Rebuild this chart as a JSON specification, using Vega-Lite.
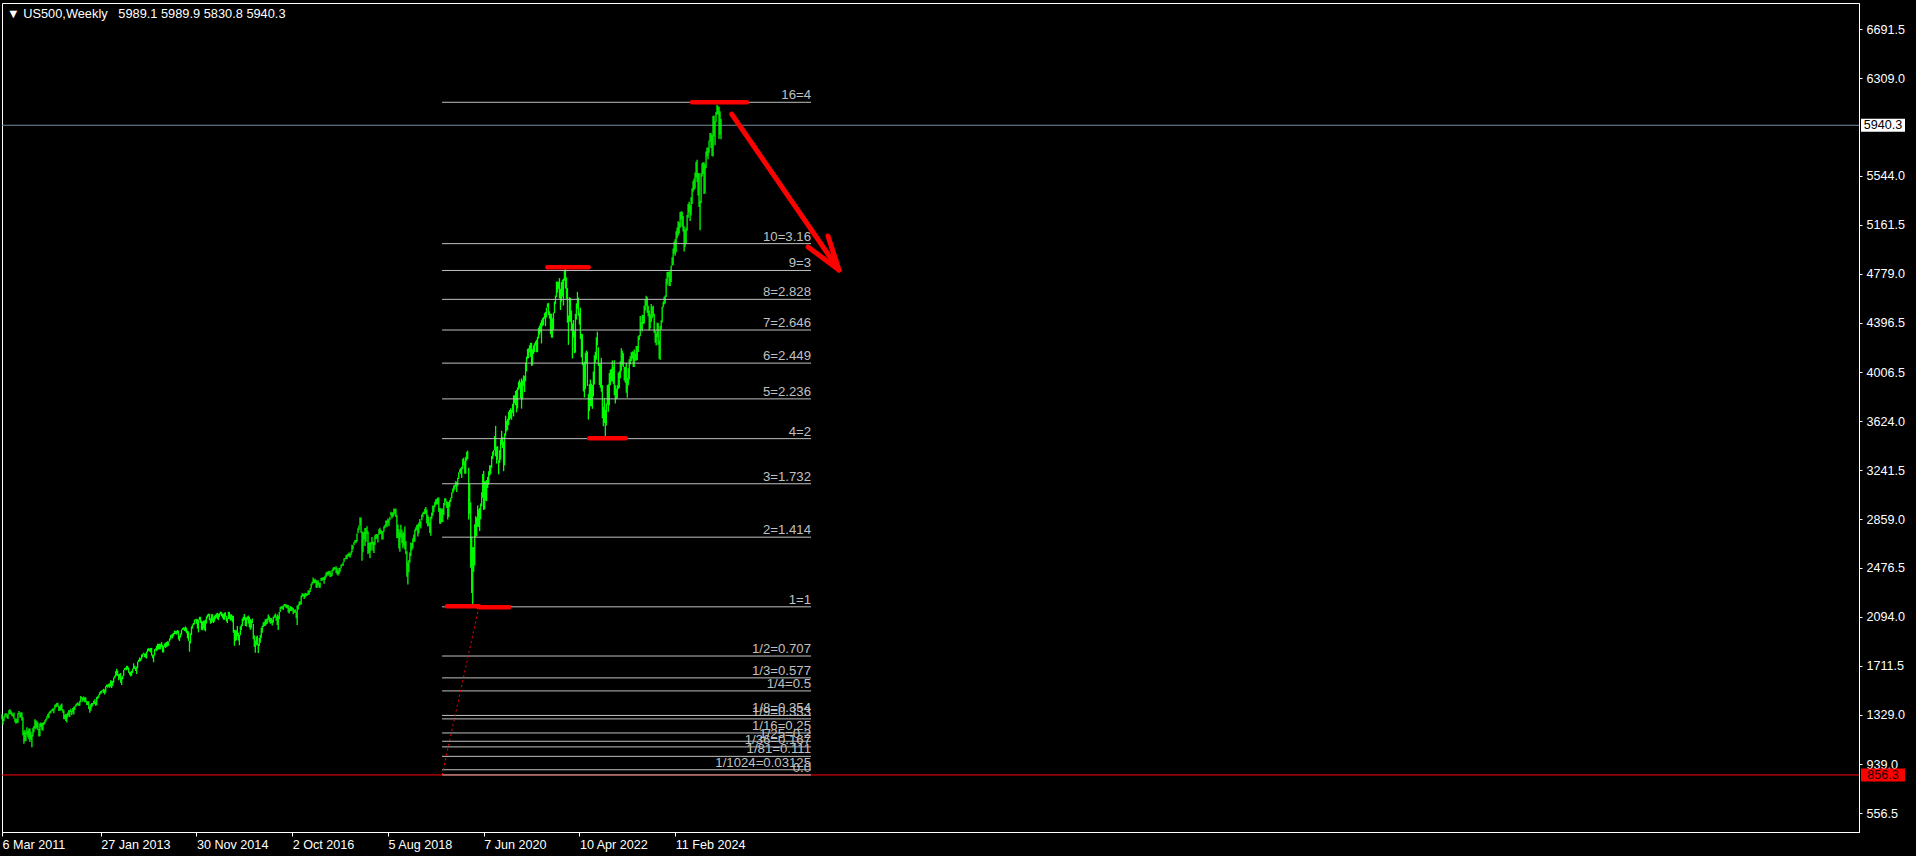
{
"$schema": "https://vega.github.io/schema/vega-lite/v6.json",
"width": 1857, "height": 829,
"autosize": {"type": "none"},
"padding": {"left": 2, "top": 3, "right": 57, "bottom": 24},
"background": "#000000",
"title": {"text": "▼ US500,Weekly\u00a0\u00a0 5989.1 5989.9 5830.8 5940.3", "anchor": "start", "frame": "group", "offset": -18, "dx": 5, "color": "#ffffff", "font": "Liberation Sans", "fontSize": 12.8, "fontWeight": "normal"},
"config": {"view": {"stroke": "#ffffff", "strokeWidth": 1}, "axis": {"labelFont": "Liberation Sans", "labelFontSize": 12.6, "labelColor": "#ffffff", "tickColor": "#ffffff", "domainColor": "#ffffff", "grid": false}},
"datasets": {
"weekly": [
{"d":"2011-03-06","l":1291,"h":1332},{"d":"2011-03-13","l":1249,"h":1304},{"d":"2011-03-20","l":1279,"h":1315},{"d":"2011-03-27","l":1305,"h":1337},{"d":"2011-04-03","l":1322,"h":1339},{"d":"2011-04-10","l":1302,"h":1330},{"d":"2011-04-17","l":1295,"h":1337},{"d":"2011-04-24","l":1331,"h":1364},{"d":"2011-05-01","l":1332,"h":1370},{"d":"2011-05-08","l":1331,"h":1359},{"d":"2011-05-15","l":1318,"h":1346},{"d":"2011-05-22","l":1311,"h":1334},{"d":"2011-05-29","l":1297,"h":1346},{"d":"2011-06-05","l":1268,"h":1301},{"d":"2011-06-12","l":1258,"h":1292},{"d":"2011-06-19","l":1262,"h":1298},{"d":"2011-06-26","l":1265,"h":1341},{"d":"2011-07-03","l":1335,"h":1356},{"d":"2011-07-10","l":1306,"h":1344},{"d":"2011-07-17","l":1304,"h":1347},{"d":"2011-07-24","l":1282,"h":1346},{"d":"2011-07-31","l":1168,"h":1307},{"d":"2011-08-07","l":1101,"h":1199},{"d":"2011-08-14","l":1120,"h":1208},{"d":"2011-08-21","l":1122,"h":1190},{"d":"2011-08-28","l":1172,"h":1230},{"d":"2011-09-04","l":1152,"h":1204},{"d":"2011-09-11","l":1136,"h":1220},{"d":"2011-09-18","l":1114,"h":1220},{"d":"2011-09-25","l":1131,"h":1195},{"d":"2011-10-02","l":1074,"h":1171},{"d":"2011-10-09","l":1158,"h":1225},{"d":"2011-10-16","l":1191,"h":1239},{"d":"2011-10-23","l":1221,"h":1292},{"d":"2011-10-30","l":1215,"h":1285},{"d":"2011-11-06","l":1226,"h":1277},{"d":"2011-11-13","l":1209,"h":1266},{"d":"2011-11-20","l":1158,"h":1216},{"d":"2011-11-27","l":1159,"h":1260},{"d":"2011-12-04","l":1231,"h":1267},{"d":"2011-12-11","l":1209,"h":1262},{"d":"2011-12-18","l":1202,"h":1265},{"d":"2011-12-25","l":1248,"h":1270},
{"d":"2012-01-01","l":1258,"h":1285},{"d":"2012-01-08","l":1275,"h":1297},{"d":"2012-01-15","l":1290,"h":1316},{"d":"2012-01-22","l":1308,"h":1333},{"d":"2012-01-29","l":1300,"h":1345},{"d":"2012-02-05","l":1338,"h":1354},{"d":"2012-02-12","l":1340,"h":1363},{"d":"2012-02-19","l":1354,"h":1368},{"d":"2012-02-26","l":1355,"h":1378},{"d":"2012-03-04","l":1340,"h":1374},{"d":"2012-03-11","l":1368,"h":1405},{"d":"2012-03-18","l":1386,"h":1409},{"d":"2012-03-25","l":1391,"h":1420},{"d":"2012-04-01","l":1394,"h":1422},{"d":"2012-04-08","l":1357,"h":1397},{"d":"2012-04-15","l":1358,"h":1391},{"d":"2012-04-22","l":1358,"h":1406},{"d":"2012-04-29","l":1367,"h":1415},{"d":"2012-05-06","l":1343,"h":1372},{"d":"2012-05-13","l":1292,"h":1360},{"d":"2012-05-20","l":1292,"h":1328},{"d":"2012-05-27","l":1278,"h":1334},{"d":"2012-06-03","l":1267,"h":1335},{"d":"2012-06-10","l":1306,"h":1345},{"d":"2012-06-17","l":1323,"h":1364},{"d":"2012-06-24","l":1309,"h":1363},{"d":"2012-07-01","l":1349,"h":1375},{"d":"2012-07-08","l":1325,"h":1357},{"d":"2012-07-15","l":1345,"h":1380},{"d":"2012-07-22","l":1329,"h":1390},{"d":"2012-07-29","l":1365,"h":1394},{"d":"2012-08-05","l":1391,"h":1407},{"d":"2012-08-12","l":1397,"h":1418},{"d":"2012-08-19","l":1403,"h":1426},{"d":"2012-08-26","l":1397,"h":1415},{"d":"2012-09-02","l":1397,"h":1438},{"d":"2012-09-09","l":1425,"h":1475},{"d":"2012-09-16","l":1450,"h":1467},{"d":"2012-09-23","l":1430,"h":1461},{"d":"2012-09-30","l":1439,"h":1470},{"d":"2012-10-07","l":1425,"h":1462},{"d":"2012-10-14","l":1426,"h":1465},{"d":"2012-10-21","l":1403,"h":1434},{"d":"2012-10-28","l":1403,"h":1434},{"d":"2012-11-04","l":1373,"h":1433},{"d":"2012-11-11","l":1343,"h":1391},{"d":"2012-11-18","l":1359,"h":1410},{"d":"2012-11-25","l":1385,"h":1419},{"d":"2012-12-02","l":1398,"h":1420},{"d":"2012-12-09","l":1411,"h":1438},{"d":"2012-12-16","l":1410,"h":1448},{"d":"2012-12-23","l":1398,"h":1430},{"d":"2012-12-30","l":1401,"h":1467},
{"d":"2013-01-06","l":1451,"h":1472},{"d":"2013-01-13","l":1461,"h":1485},{"d":"2013-01-20","l":1482,"h":1503},{"d":"2013-01-27","l":1492,"h":1514},{"d":"2013-02-03","l":1495,"h":1518},{"d":"2013-02-10","l":1511,"h":1524},{"d":"2013-02-17","l":1497,"h":1531},{"d":"2013-02-24","l":1485,"h":1525},{"d":"2013-03-03","l":1501,"h":1552},{"d":"2013-03-10","l":1547,"h":1564},{"d":"2013-03-17","l":1538,"h":1563},{"d":"2013-03-24","l":1546,"h":1570},{"d":"2013-03-31","l":1539,"h":1574},{"d":"2013-04-07","l":1548,"h":1597},{"d":"2013-04-14","l":1536,"h":1593},{"d":"2013-04-21","l":1553,"h":1592},{"d":"2013-04-28","l":1577,"h":1618},{"d":"2013-05-05","l":1614,"h":1635},{"d":"2013-05-12","l":1626,"h":1667},{"d":"2013-05-19","l":1635,"h":1687},{"d":"2013-05-26","l":1630,"h":1674},{"d":"2013-06-02","l":1598,"h":1645},{"d":"2013-06-09","l":1610,"h":1648},{"d":"2013-06-16","l":1577,"h":1655},{"d":"2013-06-23","l":1560,"h":1620},{"d":"2013-06-30","l":1605,"h":1632},{"d":"2013-07-07","l":1631,"h":1680},{"d":"2013-07-14","l":1675,"h":1693},{"d":"2013-07-21","l":1681,"h":1698},{"d":"2013-07-28","l":1676,"h":1710},{"d":"2013-08-04","l":1683,"h":1709},{"d":"2013-08-11","l":1655,"h":1696},{"d":"2013-08-18","l":1640,"h":1664},{"d":"2013-08-25","l":1628,"h":1664},{"d":"2013-09-01","l":1633,"h":1671},{"d":"2013-09-08","l":1655,"h":1689},{"d":"2013-09-15","l":1685,"h":1730},{"d":"2013-09-22","l":1687,"h":1711},{"d":"2013-09-29","l":1670,"h":1696},{"d":"2013-10-06","l":1646,"h":1704},{"d":"2013-10-13","l":1692,"h":1745},{"d":"2013-10-20","l":1740,"h":1759},{"d":"2013-10-27","l":1746,"h":1776},{"d":"2013-11-03","l":1746,"h":1771},{"d":"2013-11-10","l":1761,"h":1799},{"d":"2013-11-17","l":1780,"h":1804},{"d":"2013-11-24","l":1800,"h":1813},{"d":"2013-12-01","l":1779,"h":1806},{"d":"2013-12-08","l":1772,"h":1809},{"d":"2013-12-15","l":1767,"h":1823},{"d":"2013-12-22","l":1817,"h":1844},{"d":"2013-12-29","l":1827,"h":1849},
{"d":"2014-01-05","l":1823,"h":1843},{"d":"2014-01-12","l":1815,"h":1851},{"d":"2014-01-19","l":1790,"h":1850},{"d":"2014-01-26","l":1770,"h":1798},{"d":"2014-02-02","l":1738,"h":1798},{"d":"2014-02-09","l":1791,"h":1840},{"d":"2014-02-16","l":1830,"h":1847},{"d":"2014-02-23","l":1825,"h":1867},{"d":"2014-03-02","l":1834,"h":1883},{"d":"2014-03-09","l":1839,"h":1883},{"d":"2014-03-16","l":1839,"h":1883},{"d":"2014-03-23","l":1840,"h":1883},{"d":"2014-03-30","l":1857,"h":1897},{"d":"2014-04-06","l":1814,"h":1875},{"d":"2014-04-13","l":1815,"h":1865},{"d":"2014-04-20","l":1859,"h":1885},{"d":"2014-04-27","l":1850,"h":1892},{"d":"2014-05-04","l":1859,"h":1897},{"d":"2014-05-11","l":1862,"h":1903},{"d":"2014-05-18","l":1868,"h":1901},{"d":"2014-05-25","l":1900,"h":1925},{"d":"2014-06-01","l":1915,"h":1950},{"d":"2014-06-08","l":1930,"h":1955},{"d":"2014-06-15","l":1925,"h":1963},{"d":"2014-06-22","l":1944,"h":1968},{"d":"2014-06-29","l":1958,"h":1986},{"d":"2014-07-06","l":1959,"h":1983},{"d":"2014-07-13","l":1955,"h":1985},{"d":"2014-07-20","l":1965,"h":1991},{"d":"2014-07-27","l":1916,"h":1985},{"d":"2014-08-03","l":1904,"h":1945},{"d":"2014-08-10","l":1930,"h":1964},{"d":"2014-08-17","l":1953,"h":1994},{"d":"2014-08-24","l":1990,"h":2006},{"d":"2014-08-31","l":1995,"h":2012},{"d":"2014-09-07","l":1983,"h":2010},{"d":"2014-09-14","l":1979,"h":2019},{"d":"2014-09-21","l":1965,"h":2009},{"d":"2014-09-28","l":1926,"h":1986},{"d":"2014-10-05","l":1905,"h":1980},{"d":"2014-10-12","l":1821,"h":1906},{"d":"2014-10-19","l":1886,"h":1966},{"d":"2014-10-26","l":1951,"h":2018},{"d":"2014-11-02","l":2001,"h":2034},{"d":"2014-11-09","l":2028,"h":2046},{"d":"2014-11-16","l":2034,"h":2071},{"d":"2014-11-23","l":2064,"h":2075},{"d":"2014-11-30","l":2040,"h":2079},{"d":"2014-12-07","l":2002,"h":2075},{"d":"2014-12-14","l":1972,"h":2071},{"d":"2014-12-21","l":2069,"h":2094},{"d":"2014-12-28","l":2046,"h":2094},
{"d":"2015-01-04","l":1992,"h":2064},{"d":"2015-01-11","l":1988,"h":2057},{"d":"2015-01-18","l":2004,"h":2064},{"d":"2015-01-25","l":1989,"h":2064},{"d":"2015-02-01","l":1980,"h":2072},{"d":"2015-02-08","l":2041,"h":2097},{"d":"2015-02-15","l":2085,"h":2111},{"d":"2015-02-22","l":2097,"h":2119},{"d":"2015-03-01","l":2067,"h":2117},{"d":"2015-03-08","l":2039,"h":2082},{"d":"2015-03-15","l":2046,"h":2114},{"d":"2015-03-22","l":2055,"h":2115},{"d":"2015-03-29","l":2045,"h":2089},{"d":"2015-04-05","l":2056,"h":2103},{"d":"2015-04-12","l":2077,"h":2111},{"d":"2015-04-19","l":2087,"h":2120},{"d":"2015-04-26","l":2077,"h":2125},{"d":"2015-05-03","l":2067,"h":2117},{"d":"2015-05-10","l":2092,"h":2123},{"d":"2015-05-17","l":2114,"h":2135},{"d":"2015-05-24","l":2099,"h":2132},{"d":"2015-05-31","l":2085,"h":2121},{"d":"2015-06-07","l":2072,"h":2115},{"d":"2015-06-14","l":2070,"h":2126},{"d":"2015-06-21","l":2096,"h":2130},{"d":"2015-06-28","l":2056,"h":2102},{"d":"2015-07-05","l":2044,"h":2085},{"d":"2015-07-12","l":2077,"h":2133},{"d":"2015-07-19","l":2077,"h":2132},{"d":"2015-07-26","l":2063,"h":2114},{"d":"2015-08-02","l":2068,"h":2113},{"d":"2015-08-09","l":2052,"h":2103},{"d":"2015-08-16","l":1970,"h":2102},{"d":"2015-08-23","l":1867,"h":1993},{"d":"2015-08-30","l":1903,"h":1988},{"d":"2015-09-06","l":1910,"h":1988},{"d":"2015-09-13","l":1944,"h":2021},{"d":"2015-09-20","l":1908,"h":1970},{"d":"2015-09-27","l":1872,"h":1952},{"d":"2015-10-04","l":1950,"h":2020},{"d":"2015-10-11","l":1990,"h":2034},{"d":"2015-10-18","l":2022,"h":2080},{"d":"2015-10-25","l":2059,"h":2094},{"d":"2015-11-01","l":2069,"h":2116},{"d":"2015-11-08","l":2022,"h":2093},{"d":"2015-11-15","l":2019,"h":2089},{"d":"2015-11-22","l":2070,"h":2097},{"d":"2015-11-29","l":2042,"h":2104},{"d":"2015-12-06","l":2012,"h":2093},{"d":"2015-12-13","l":1993,"h":2076},{"d":"2015-12-20","l":2005,"h":2067},{"d":"2015-12-27","l":2043,"h":2081},
{"d":"2016-01-03","l":1918,"h":2039},{"d":"2016-01-10","l":1857,"h":1950},{"d":"2016-01-17","l":1812,"h":1908},{"d":"2016-01-24","l":1872,"h":1940},{"d":"2016-01-31","l":1872,"h":1947},{"d":"2016-02-07","l":1810,"h":1882},{"d":"2016-02-14","l":1865,"h":1930},{"d":"2016-02-21","l":1891,"h":1951},{"d":"2016-02-28","l":1931,"h":2009},{"d":"2016-03-06","l":1969,"h":2023},{"d":"2016-03-13","l":2014,"h":2052},{"d":"2016-03-20","l":2022,"h":2056},{"d":"2016-03-27","l":2022,"h":2075},{"d":"2016-04-03","l":2033,"h":2075},{"d":"2016-04-10","l":2039,"h":2083},{"d":"2016-04-17","l":2070,"h":2111},{"d":"2016-04-24","l":2052,"h":2099},{"d":"2016-05-01","l":2039,"h":2084},{"d":"2016-05-08","l":2045,"h":2084},{"d":"2016-05-15","l":2025,"h":2071},{"d":"2016-05-22","l":2048,"h":2094},{"d":"2016-05-29","l":2085,"h":2106},{"d":"2016-06-05","l":2089,"h":2120},{"d":"2016-06-12","l":2063,"h":2096},{"d":"2016-06-19","l":2030,"h":2113},{"d":"2016-06-26","l":1991,"h":2102},{"d":"2016-07-03","l":2074,"h":2131},{"d":"2016-07-10","l":2131,"h":2170},{"d":"2016-07-17","l":2159,"h":2176},{"d":"2016-07-24","l":2155,"h":2177},{"d":"2016-07-31","l":2147,"h":2183},{"d":"2016-08-07","l":2175,"h":2194},{"d":"2016-08-14","l":2173,"h":2193},{"d":"2016-08-21","l":2160,"h":2193},{"d":"2016-08-28","l":2161,"h":2187},{"d":"2016-09-04","l":2127,"h":2187},{"d":"2016-09-11","l":2119,"h":2163},{"d":"2016-09-18","l":2139,"h":2179},{"d":"2016-09-25","l":2140,"h":2175},{"d":"2016-10-02","l":2142,"h":2169},{"d":"2016-10-09","l":2114,"h":2163},{"d":"2016-10-16","l":2125,"h":2148},{"d":"2016-10-23","l":2125,"h":2154},{"d":"2016-10-30","l":2083,"h":2133},{"d":"2016-11-06","l":2030,"h":2182},{"d":"2016-11-13","l":2151,"h":2189},{"d":"2016-11-20","l":2181,"h":2214},{"d":"2016-11-27","l":2187,"h":2214},{"d":"2016-12-04","l":2191,"h":2260},{"d":"2016-12-11","l":2248,"h":2278},{"d":"2016-12-18","l":2254,"h":2274},{"d":"2016-12-25","l":2233,"h":2273},
{"d":"2017-01-01","l":2245,"h":2282},{"d":"2017-01-08","l":2254,"h":2279},{"d":"2017-01-15","l":2258,"h":2276},{"d":"2017-01-22","l":2266,"h":2301},{"d":"2017-01-29","l":2267,"h":2300},{"d":"2017-02-05","l":2288,"h":2319},{"d":"2017-02-12","l":2313,"h":2352},{"d":"2017-02-19","l":2345,"h":2368},{"d":"2017-02-26","l":2358,"h":2401},{"d":"2017-03-05","l":2357,"h":2385},{"d":"2017-03-12","l":2360,"h":2391},{"d":"2017-03-19","l":2322,"h":2382},{"d":"2017-03-26","l":2322,"h":2372},{"d":"2017-04-02","l":2344,"h":2379},{"d":"2017-04-09","l":2322,"h":2358},{"d":"2017-04-16","l":2322,"h":2362},{"d":"2017-04-23","l":2373,"h":2399},{"d":"2017-04-30","l":2377,"h":2399},{"d":"2017-05-07","l":2382,"h":2404},{"d":"2017-05-14","l":2352,"h":2406},{"d":"2017-05-21","l":2384,"h":2418},{"d":"2017-05-28","l":2403,"h":2440},{"d":"2017-06-04","l":2419,"h":2446},{"d":"2017-06-11","l":2415,"h":2448},{"d":"2017-06-18","l":2428,"h":2454},{"d":"2017-06-25","l":2405,"h":2453},{"d":"2017-07-02","l":2407,"h":2434},{"d":"2017-07-09","l":2415,"h":2463},{"d":"2017-07-16","l":2452,"h":2478},{"d":"2017-07-23","l":2459,"h":2484},{"d":"2017-07-30","l":2468,"h":2480},{"d":"2017-08-06","l":2437,"h":2490},{"d":"2017-08-13","l":2425,"h":2474},{"d":"2017-08-20","l":2417,"h":2454},{"d":"2017-08-27","l":2428,"h":2477},{"d":"2017-09-03","l":2446,"h":2476},{"d":"2017-09-10","l":2474,"h":2501},{"d":"2017-09-17","l":2496,"h":2508},{"d":"2017-09-24","l":2491,"h":2520},{"d":"2017-10-01","l":2520,"h":2552},{"d":"2017-10-08","l":2544,"h":2555},{"d":"2017-10-15","l":2548,"h":2576},{"d":"2017-10-22","l":2544,"h":2582},{"d":"2017-10-29","l":2566,"h":2588},{"d":"2017-11-05","l":2566,"h":2597},{"d":"2017-11-12","l":2557,"h":2590},{"d":"2017-11-19","l":2576,"h":2605},{"d":"2017-11-26","l":2597,"h":2658},{"d":"2017-12-03","l":2624,"h":2653},{"d":"2017-12-10","l":2655,"h":2679},{"d":"2017-12-17","l":2673,"h":2695},{"d":"2017-12-24","l":2669,"h":2695},{"d":"2017-12-31","l":2683,"h":2745},
{"d":"2018-01-07","l":2748,"h":2787},{"d":"2018-01-14","l":2776,"h":2811},{"d":"2018-01-21","l":2808,"h":2873},{"d":"2018-01-28","l":2752,"h":2870},{"d":"2018-02-04","l":2532,"h":2764},{"d":"2018-02-11","l":2600,"h":2755},{"d":"2018-02-18","l":2700,"h":2757},{"d":"2018-02-25","l":2647,"h":2789},{"d":"2018-03-04","l":2681,"h":2787},{"d":"2018-03-11","l":2741,"h":2802},{"d":"2018-03-18","l":2586,"h":2761},{"d":"2018-03-25","l":2594,"h":2675},{"d":"2018-04-01","l":2553,"h":2673},{"d":"2018-04-08","l":2610,"h":2680},{"d":"2018-04-15","l":2660,"h":2718},{"d":"2018-04-22","l":2612,"h":2683},{"d":"2018-04-29","l":2594,"h":2682},{"d":"2018-05-06","l":2655,"h":2732},{"d":"2018-05-13","l":2701,"h":2742},{"d":"2018-05-20","l":2707,"h":2742},{"d":"2018-05-27","l":2676,"h":2736},{"d":"2018-06-03","l":2735,"h":2780},{"d":"2018-06-10","l":2743,"h":2791},{"d":"2018-06-17","l":2742,"h":2774},{"d":"2018-06-24","l":2698,"h":2765},{"d":"2018-07-01","l":2699,"h":2764},{"d":"2018-07-08","l":2760,"h":2802},{"d":"2018-07-15","l":2788,"h":2815},{"d":"2018-07-22","l":2804,"h":2848},{"d":"2018-07-29","l":2795,"h":2848},{"d":"2018-08-05","l":2829,"h":2864},{"d":"2018-08-12","l":2802,"h":2854},{"d":"2018-08-19","l":2850,"h":2877},{"d":"2018-08-26","l":2884,"h":2916},{"d":"2018-09-02","l":2864,"h":2908},{"d":"2018-09-09","l":2874,"h":2912},{"d":"2018-09-16","l":2886,"h":2941},{"d":"2018-09-23","l":2903,"h":2940},{"d":"2018-09-30","l":2874,"h":2940},{"d":"2018-10-07","l":2710,"h":2889},{"d":"2018-10-14","l":2710,"h":2817},{"d":"2018-10-21","l":2628,"h":2779},{"d":"2018-10-28","l":2603,"h":2756},{"d":"2018-11-04","l":2715,"h":2815},{"d":"2018-11-11","l":2670,"h":2775},{"d":"2018-11-18","l":2631,"h":2747},{"d":"2018-11-25","l":2649,"h":2760},{"d":"2018-12-02","l":2621,"h":2800},{"d":"2018-12-09","l":2583,"h":2685},{"d":"2018-12-16","l":2408,"h":2607},{"d":"2018-12-23","l":2346,"h":2520},{"d":"2018-12-30","l":2443,"h":2539},
{"d":"2019-01-06","l":2519,"h":2597},{"d":"2019-01-13","l":2570,"h":2675},{"d":"2019-01-20","l":2612,"h":2672},{"d":"2019-01-27","l":2631,"h":2708},{"d":"2019-02-03","l":2681,"h":2738},{"d":"2019-02-10","l":2681,"h":2777},{"d":"2019-02-17","l":2763,"h":2795},{"d":"2019-02-24","l":2775,"h":2814},{"d":"2019-03-03","l":2722,"h":2816},{"d":"2019-03-10","l":2745,"h":2830},{"d":"2019-03-17","l":2800,"h":2860},{"d":"2019-03-24","l":2785,"h":2841},{"d":"2019-03-31","l":2848,"h":2894},{"d":"2019-04-07","l":2873,"h":2910},{"d":"2019-04-14","l":2898,"h":2917},{"d":"2019-04-21","l":2896,"h":2940},{"d":"2019-04-28","l":2900,"h":2954},{"d":"2019-05-05","l":2825,"h":2931},{"d":"2019-05-12","l":2801,"h":2892},{"d":"2019-05-19","l":2805,"h":2875},{"d":"2019-05-26","l":2750,"h":2830},{"d":"2019-06-02","l":2728,"h":2876},{"d":"2019-06-09","l":2861,"h":2911},{"d":"2019-06-16","l":2884,"h":2964},{"d":"2019-06-23","l":2912,"h":2964},{"d":"2019-06-30","l":2952,"h":2995},{"d":"2019-07-07","l":2966,"h":3014},{"d":"2019-07-14","l":2975,"h":3018},{"d":"2019-07-21","l":2975,"h":3028},{"d":"2019-07-28","l":2914,"h":3028},{"d":"2019-08-04","l":2822,"h":2945},{"d":"2019-08-11","l":2822,"h":2943},{"d":"2019-08-18","l":2834,"h":2939},{"d":"2019-08-25","l":2836,"h":2941},{"d":"2019-09-01","l":2891,"h":2985},{"d":"2019-09-08","l":2964,"h":3021},{"d":"2019-09-15","l":2996,"h":3022},{"d":"2019-09-22","l":2945,"h":3000},{"d":"2019-09-29","l":2855,"h":2993},{"d":"2019-10-06","l":2874,"h":2993},{"d":"2019-10-13","l":2953,"h":3008},{"d":"2019-10-20","l":2992,"h":3027},{"d":"2019-10-27","l":3023,"h":3067},{"d":"2019-11-03","l":3061,"h":3097},{"d":"2019-11-10","l":3075,"h":3121},{"d":"2019-11-17","l":3092,"h":3127},{"d":"2019-11-24","l":3113,"h":3154},{"d":"2019-12-01","l":3070,"h":3150},{"d":"2019-12-08","l":3120,"h":3183},{"d":"2019-12-15","l":3173,"h":3225},{"d":"2019-12-22","l":3223,"h":3248},{"d":"2019-12-29","l":3212,"h":3258},
{"d":"2020-01-05","l":3181,"h":3268},{"d":"2020-01-12","l":3251,"h":3330},{"d":"2020-01-19","l":3280,"h":3338},{"d":"2020-01-26","l":3214,"h":3312},{"d":"2020-02-02","l":3214,"h":3347},{"d":"2020-02-09","l":3315,"h":3385},{"d":"2020-02-16","l":3328,"h":3394},{"d":"2020-02-23","l":2855,"h":3260},{"d":"2020-03-01","l":2901,"h":3137},{"d":"2020-03-08","l":2478,"h":2990},{"d":"2020-03-15","l":2280,"h":2720},{"d":"2020-03-22","l":2174,"h":2638},{"d":"2020-03-29","l":2447,"h":2640},{"d":"2020-04-05","l":2496,"h":2819},{"d":"2020-04-12","l":2719,"h":2880},{"d":"2020-04-19","l":2727,"h":2871},{"d":"2020-04-26","l":2798,"h":2965},{"d":"2020-05-03","l":2797,"h":2934},{"d":"2020-05-10","l":2766,"h":2945},{"d":"2020-05-17","l":2857,"h":2980},{"d":"2020-05-24","l":2960,"h":3068},{"d":"2020-05-31","l":3025,"h":3211},{"d":"2020-06-07","l":2930,"h":3234},{"d":"2020-06-14","l":2935,"h":3155},{"d":"2020-06-21","l":3004,"h":3155},{"d":"2020-06-28","l":3000,"h":3165},{"d":"2020-07-05","l":3101,"h":3190},{"d":"2020-07-12","l":3127,"h":3233},{"d":"2020-07-19","l":3198,"h":3280},{"d":"2020-07-26","l":3209,"h":3279},{"d":"2020-08-02","l":3260,"h":3352},{"d":"2020-08-09","l":3328,"h":3387},{"d":"2020-08-16","l":3355,"h":3399},{"d":"2020-08-23","l":3397,"h":3509},{"d":"2020-08-30","l":3349,"h":3588},{"d":"2020-09-06","l":3293,"h":3425},{"d":"2020-09-13","l":3322,"h":3429},{"d":"2020-09-20","l":3209,"h":3320},{"d":"2020-09-27","l":3297,"h":3398},{"d":"2020-10-04","l":3323,"h":3482},{"d":"2020-10-11","l":3440,"h":3550},{"d":"2020-10-18","l":3415,"h":3502},{"d":"2020-10-25","l":3233,"h":3464},{"d":"2020-11-01","l":3279,"h":3529},{"d":"2020-11-08","l":3511,"h":3668},{"d":"2020-11-15","l":3545,"h":3628},{"d":"2020-11-22","l":3557,"h":3644},{"d":"2020-11-29","l":3594,"h":3699},{"d":"2020-12-06","l":3633,"h":3712},{"d":"2020-12-13","l":3647,"h":3726},{"d":"2020-12-20","l":3636,"h":3712},{"d":"2020-12-27","l":3690,"h":3760},
{"d":"2021-01-03","l":3662,"h":3827},{"d":"2021-01-10","l":3764,"h":3827},{"d":"2021-01-17","l":3749,"h":3861},{"d":"2021-01-24","l":3694,"h":3870},{"d":"2021-01-31","l":3725,"h":3889},{"d":"2021-02-07","l":3870,"h":3934},{"d":"2021-02-14","l":3885,"h":3950},{"d":"2021-02-21","l":3805,"h":3929},{"d":"2021-02-28","l":3723,"h":3960},{"d":"2021-03-07","l":3795,"h":3944},{"d":"2021-03-14","l":3903,"h":3984},{"d":"2021-03-21","l":3853,"h":3978},{"d":"2021-03-28","l":3937,"h":4083},{"d":"2021-04-04","l":4014,"h":4130},{"d":"2021-04-11","l":4113,"h":4191},{"d":"2021-04-18","l":4118,"h":4195},{"d":"2021-04-25","l":4164,"h":4219},{"d":"2021-05-02","l":4128,"h":4238},{"d":"2021-05-09","l":4057,"h":4237},{"d":"2021-05-16","l":4062,"h":4188},{"d":"2021-05-23","l":4150,"h":4218},{"d":"2021-05-30","l":4165,"h":4234},{"d":"2021-06-06","l":4218,"h":4249},{"d":"2021-06-13","l":4164,"h":4262},{"d":"2021-06-20","l":4165,"h":4286},{"d":"2021-06-27","l":4271,"h":4356},{"d":"2021-07-04","l":4300,"h":4372},{"d":"2021-07-11","l":4321,"h":4394},{"d":"2021-07-18","l":4233,"h":4415},{"d":"2021-07-25","l":4367,"h":4430},{"d":"2021-08-01","l":4376,"h":4440},{"d":"2021-08-08","l":4426,"h":4470},{"d":"2021-08-15","l":4368,"h":4480},{"d":"2021-08-22","l":4437,"h":4513},{"d":"2021-08-29","l":4514,"h":4546},{"d":"2021-09-05","l":4455,"h":4550},{"d":"2021-09-12","l":4427,"h":4485},{"d":"2021-09-19","l":4305,"h":4466},{"d":"2021-09-26","l":4278,"h":4465},{"d":"2021-10-03","l":4278,"h":4430},{"d":"2021-10-10","l":4340,"h":4475},{"d":"2021-10-17","l":4470,"h":4560},{"d":"2021-10-24","l":4540,"h":4608},{"d":"2021-10-31","l":4595,"h":4718},{"d":"2021-11-07","l":4630,"h":4715},{"d":"2021-11-14","l":4660,"h":4717},{"d":"2021-11-21","l":4585,"h":4744},{"d":"2021-11-28","l":4495,"h":4660},{"d":"2021-12-05","l":4560,"h":4713},{"d":"2021-12-12","l":4600,"h":4731},{"d":"2021-12-19","l":4530,"h":4740},{"d":"2021-12-26","l":4723,"h":4808},
{"d":"2022-01-02","l":4662,"h":4818},{"d":"2022-01-09","l":4582,"h":4749},{"d":"2022-01-16","l":4395,"h":4666},{"d":"2022-01-23","l":4222,"h":4452},{"d":"2022-01-30","l":4405,"h":4595},{"d":"2022-02-06","l":4401,"h":4590},{"d":"2022-02-13","l":4335,"h":4490},{"d":"2022-02-20","l":4115,"h":4390},{"d":"2022-02-27","l":4280,"h":4416},{"d":"2022-03-06","l":4157,"h":4330},{"d":"2022-03-13","l":4161,"h":4465},{"d":"2022-03-20","l":4420,"h":4546},{"d":"2022-03-27","l":4506,"h":4637},{"d":"2022-04-03","l":4450,"h":4593},{"d":"2022-04-10","l":4381,"h":4471},{"d":"2022-04-17","l":4267,"h":4513},{"d":"2022-04-24","l":4124,"h":4308},{"d":"2022-05-01","l":4063,"h":4307},{"d":"2022-05-08","l":3858,"h":4082},{"d":"2022-05-15","l":3810,"h":4090},{"d":"2022-05-22","l":3875,"h":4160},{"d":"2022-05-29","l":4073,"h":4177},{"d":"2022-06-05","l":3900,"h":4169},{"d":"2022-06-12","l":3637,"h":3838},{"d":"2022-06-19","l":3703,"h":3914},{"d":"2022-06-26","l":3740,"h":3950},{"d":"2022-07-03","l":3743,"h":3918},{"d":"2022-07-10","l":3722,"h":3907},{"d":"2022-07-17","l":3818,"h":4013},{"d":"2022-07-24","l":3911,"h":4140},{"d":"2022-07-31","l":4080,"h":4168},{"d":"2022-08-07","l":4107,"h":4281},{"d":"2022-08-14","l":4218,"h":4325},{"d":"2022-08-21","l":4057,"h":4204},{"d":"2022-08-28","l":3907,"h":4079},{"d":"2022-09-04","l":3886,"h":4077},{"d":"2022-09-11","l":3855,"h":4119},{"d":"2022-09-18","l":3647,"h":3907},{"d":"2022-09-25","l":3585,"h":3736},{"d":"2022-10-02","l":3610,"h":3806},{"d":"2022-10-09","l":3491,"h":3712},{"d":"2022-10-16","l":3590,"h":3763},{"d":"2022-10-23","l":3753,"h":3905},{"d":"2022-10-30","l":3698,"h":3913},{"d":"2022-11-06","l":3750,"h":4002},{"d":"2022-11-13","l":3906,"h":4028},{"d":"2022-11-20","l":3936,"h":4034},{"d":"2022-11-27","l":3938,"h":4100},{"d":"2022-12-04","l":3918,"h":4052},{"d":"2022-12-11","l":3827,"h":4101},{"d":"2022-12-18","l":3764,"h":3906},{"d":"2022-12-25","l":3796,"h":3878},
{"d":"2023-01-01","l":3802,"h":3906},{"d":"2023-01-08","l":3877,"h":4003},{"d":"2023-01-15","l":3886,"h":4015},{"d":"2023-01-22","l":3961,"h":4094},{"d":"2023-01-29","l":4015,"h":4195},{"d":"2023-02-05","l":4061,"h":4176},{"d":"2023-02-12","l":4048,"h":4156},{"d":"2023-02-19","l":3944,"h":4051},{"d":"2023-02-26","l":3925,"h":4048},{"d":"2023-03-05","l":3847,"h":4079},{"d":"2023-03-12","l":3808,"h":3964},{"d":"2023-03-19","l":3906,"h":4039},{"d":"2023-03-26","l":3951,"h":4110},{"d":"2023-04-02","l":4069,"h":4133},{"d":"2023-04-09","l":4095,"h":4164},{"d":"2023-04-16","l":4114,"h":4170},{"d":"2023-04-23","l":4049,"h":4170},{"d":"2023-04-30","l":4048,"h":4186},{"d":"2023-05-07","l":4098,"h":4154},{"d":"2023-05-14","l":4099,"h":4213},{"d":"2023-05-21","l":4103,"h":4213},{"d":"2023-05-28","l":4166,"h":4290},{"d":"2023-06-04","l":4260,"h":4299},{"d":"2023-06-11","l":4290,"h":4448},{"d":"2023-06-18","l":4341,"h":4400},{"d":"2023-06-25","l":4328,"h":4458},{"d":"2023-07-02","l":4385,"h":4455},{"d":"2023-07-09","l":4389,"h":4528},{"d":"2023-07-16","l":4491,"h":4578},{"d":"2023-07-23","l":4526,"h":4607},{"d":"2023-07-30","l":4474,"h":4594},{"d":"2023-08-06","l":4443,"h":4528},{"d":"2023-08-13","l":4335,"h":4491},{"d":"2023-08-20","l":4350,"h":4460},{"d":"2023-08-27","l":4401,"h":4541},{"d":"2023-09-03","l":4430,"h":4520},{"d":"2023-09-10","l":4448,"h":4527},{"d":"2023-09-17","l":4316,"h":4466},{"d":"2023-09-24","l":4238,"h":4337},{"d":"2023-10-01","l":4216,"h":4312},{"d":"2023-10-08","l":4283,"h":4394},{"d":"2023-10-15","l":4223,"h":4393},{"d":"2023-10-22","l":4113,"h":4257},{"d":"2023-10-29","l":4104,"h":4370},{"d":"2023-11-05","l":4341,"h":4415},{"d":"2023-11-12","l":4396,"h":4521},{"d":"2023-11-19","l":4514,"h":4560},{"d":"2023-11-26","l":4537,"h":4598},{"d":"2023-12-03","l":4546,"h":4609},{"d":"2023-12-10","l":4597,"h":4739},{"d":"2023-12-17","l":4694,"h":4793},{"d":"2023-12-24","l":4751,"h":4794},{"d":"2023-12-31","l":4682,"h":4794},
{"d":"2024-01-07","l":4682,"h":4798},{"d":"2024-01-14","l":4714,"h":4842},{"d":"2024-01-21","l":4842,"h":4907},{"d":"2024-01-28","l":4845,"h":4976},{"d":"2024-02-04","l":4934,"h":5030},{"d":"2024-02-11","l":4920,"h":5048},{"d":"2024-02-18","l":4946,"h":5111},{"d":"2024-02-25","l":5057,"h":5140},{"d":"2024-03-03","l":5075,"h":5190},{"d":"2024-03-10","l":5094,"h":5180},{"d":"2024-03-17","l":5138,"h":5262},{"d":"2024-03-24","l":5203,"h":5265},{"d":"2024-03-31","l":5146,"h":5265},{"d":"2024-04-07","l":5108,"h":5230},{"d":"2024-04-14","l":4953,"h":5150},{"d":"2024-04-21","l":4990,"h":5123},{"d":"2024-04-28","l":5011,"h":5139},{"d":"2024-05-05","l":5114,"h":5240},{"d":"2024-05-12","l":5217,"h":5325},{"d":"2024-05-19","l":5257,"h":5342},{"d":"2024-05-26","l":5191,"h":5315},{"d":"2024-06-02","l":5234,"h":5376},{"d":"2024-06-09","l":5324,"h":5447},{"d":"2024-06-16","l":5420,"h":5505},{"d":"2024-06-23","l":5433,"h":5524},{"d":"2024-06-30","l":5445,"h":5570},{"d":"2024-07-07","l":5529,"h":5655},{"d":"2024-07-14","l":5497,"h":5670},{"d":"2024-07-21","l":5390,"h":5567},{"d":"2024-07-28","l":5300,"h":5566},{"d":"2024-08-04","l":5119,"h":5350},{"d":"2024-08-11","l":5330,"h":5564},{"d":"2024-08-18","l":5540,"h":5643},{"d":"2024-08-25","l":5560,"h":5651},{"d":"2024-09-01","l":5402,"h":5651},{"d":"2024-09-08","l":5406,"h":5636},{"d":"2024-09-15","l":5604,"h":5734},{"d":"2024-09-22","l":5698,"h":5767},{"d":"2024-09-29","l":5674,"h":5765},{"d":"2024-10-06","l":5726,"h":5822},{"d":"2024-10-13","l":5815,"h":5879},{"d":"2024-10-20","l":5762,"h":5878},{"d":"2024-10-27","l":5700,"h":5863},{"d":"2024-11-03","l":5696,"h":6012},{"d":"2024-11-10","l":5852,"h":6017},{"d":"2024-11-17","l":5783,"h":5972},{"d":"2024-11-24","l":5963,"h":6044},{"d":"2024-12-01","l":6024,"h":6100},{"d":"2024-12-08","l":6024,"h":6089},{"d":"2024-12-15","l":5832,"h":6085},{"d":"2024-12-22","l":5866,"h":6050},{"d":"2024-12-29","l":5831,"h":5990}
],
"fib": [
{"lv":"16=4","p":6120},{"lv":"10=3.16","p":5014},{"lv":"9=3","p":4804},{"lv":"8=2.828","p":4578},{"lv":"7=2.646","p":4338},{"lv":"6=2.449","p":4079},{"lv":"5=2.236","p":3799},{"lv":"4=2","p":3488},{"lv":"3=1.732","p":3135},{"lv":"2=1.414","p":2717},{"lv":"1=1","p":2172},{"lv":"1/2=0.707","p":1787},{"lv":"1/3=0.577","p":1616},{"lv":"1/4=0.5","p":1514},{"lv":"1/8=0.354","p":1322},{"lv":"1/9=0.333","p":1295},{"lv":"1/16=0.25","p":1185},{"lv":"1/25=0.2","p":1120},{"lv":"1/36=0.167","p":1076},{"lv":"1/81=0.111","p":1002},{"lv":"1/1024=0.03125","p":897},{"lv":"0.0","p":856.3}
],
"levels": [
{"d1":"2024-06-09","d2":"2025-06-29","p":6120},{"d1":"2021-08-28","d2":"2022-06-14","p":4829},{"d1":"2022-06-18","d2":"2023-03-01","p":3491},{"d1":"2019-09-24","d2":"2020-05-05","p":2176},{"d1":"2020-05-05","d2":"2020-12-02","p":2168}
],
"arrow": [
{"d1":"2025-03-14","p1":6028,"d2":"2027-04-06","p2":4808},{"d1":"2026-09-01","p1":4988,"d2":"2027-04-06","p2":4808},{"d1":"2027-01-19","p1":5074,"d2":"2027-04-06","p2":4808}
],
"trend": [
{"d1":"2019-08-20","p1":856.3,"d2":"2020-05-05","p2":2172}
]
},
"layer": [
{"data": {"values": [{"p": 5940.3}]}, "mark": {"type": "rule", "color": "#778899", "strokeWidth": 1},
 "encoding": {"y": {"field": "p", "type": "quantitative"}}},
{"data": {"values": [{"p": 856.3}]}, "mark": {"type": "rule", "color": "#ff0000", "strokeWidth": 1},
 "encoding": {"y": {"field": "p", "type": "quantitative"}}},
{"data": {"name": "weekly"}, "mark": {"type": "rule", "color": "#00ff00", "strokeWidth": 1.3},
 "encoding": {
  "x": {"field": "d", "type": "temporal",
   "scale": {"type": "utc", "domain": [{"year": 2011, "month": 3, "date": 6, "utc": true}, {"year": 2046, "month": 11, "date": 12, "utc": true}]},
   "axis": {"orient": "bottom", "title": null, "format": "%-d %b %Y", "labelAlign": "left", "labelBaseline": "top", "labelPadding": 2, "tickSize": 4, "labelOverlap": false, "labelFlush": false,
    "values": [{"year": 2011, "month": 3, "date": 6, "utc": true}, {"year": 2013, "month": 1, "date": 27, "utc": true}, {"year": 2014, "month": 11, "date": 30, "utc": true}, {"year": 2016, "month": 10, "date": 2, "utc": true}, {"year": 2018, "month": 8, "date": 5, "utc": true}, {"year": 2020, "month": 6, "date": 7, "utc": true}, {"year": 2022, "month": 4, "date": 10, "utc": true}, {"year": 2024, "month": 2, "date": 11, "utc": true}]}},
  "y": {"field": "l", "type": "quantitative",
   "scale": {"domain": [410, 6897], "nice": false, "zero": false},
   "axis": {"orient": "right", "title": null, "format": ".1f", "labelAlign": "left", "labelBaseline": "middle", "labelPadding": 4, "tickSize": 3, "labelOverlap": false, "labelFlush": false,
    "values": [556.5, 939, 1329, 1711.5, 2094, 2476.5, 2859, 3241.5, 3624, 4006.5, 4396.5, 4779, 5161.5, 5544, 6309, 6691.5]}},
  "y2": {"field": "h"}
 }},
{"data": {"name": "fib"}, "mark": {"type": "rule", "color": "#c0c0c0", "strokeWidth": 1},
 "encoding": {
  "x": {"datum": {"year": 2019, "month": 8, "date": 20, "utc": true}, "type": "temporal"},
  "x2": {"datum": {"year": 2026, "month": 9, "date": 22, "utc": true}},
  "y": {"field": "p", "type": "quantitative"}}},
{"data": {"name": "fib"}, "mark": {"type": "text", "color": "#c0c0c0", "align": "right", "baseline": "alphabetic", "dy": -3, "font": "Liberation Sans", "fontSize": 13.2},
 "encoding": {
  "x": {"datum": {"year": 2026, "month": 9, "date": 22, "utc": true}, "type": "temporal"},
  "y": {"field": "p", "type": "quantitative"},
  "text": {"field": "lv"}}},
{"data": {"name": "trend"}, "mark": {"type": "rule", "color": "#ff0000", "strokeWidth": 1, "strokeDash": [2, 3]},
 "encoding": {
  "x": {"field": "d1", "type": "temporal"}, "x2": {"field": "d2"},
  "y": {"field": "p1", "type": "quantitative"}, "y2": {"field": "p2"}}},
{"data": {"name": "levels"}, "mark": {"type": "rule", "color": "#ff0000", "strokeWidth": 4.5, "strokeCap": "round"},
 "encoding": {
  "x": {"field": "d1", "type": "temporal"}, "x2": {"field": "d2"},
  "y": {"field": "p", "type": "quantitative"}}},
{"data": {"name": "arrow"}, "mark": {"type": "rule", "color": "#ff0000", "strokeWidth": 5, "strokeCap": "round"},
 "encoding": {
  "x": {"field": "d1", "type": "temporal"}, "x2": {"field": "d2"},
  "y": {"field": "p1", "type": "quantitative"}, "y2": {"field": "p2"}}},
{"data": {"values": [{"p": 5940.3, "t": "5940.3"}]}, "mark": {"type": "rect", "color": "#ffffff", "width": 44, "height": 13, "xOffset": 24},
 "encoding": {
  "x": {"datum": {"year": 2046, "month": 11, "date": 12, "utc": true}, "type": "temporal"},
  "y": {"field": "p", "type": "quantitative"}}},
{"data": {"values": [{"p": 5940.3, "t": "5940.3"}]}, "mark": {"type": "text", "color": "#000000", "align": "center", "baseline": "middle", "dx": 24, "font": "Liberation Sans", "fontSize": 12.6},
 "encoding": {
  "x": {"datum": {"year": 2046, "month": 11, "date": 12, "utc": true}, "type": "temporal"},
  "y": {"field": "p", "type": "quantitative"}, "text": {"field": "t"}}},
{"data": {"values": [{"p": 856.3, "t": "856.3"}]}, "mark": {"type": "rect", "color": "#ff0000", "width": 44, "height": 13, "xOffset": 24},
 "encoding": {
  "x": {"datum": {"year": 2046, "month": 11, "date": 12, "utc": true}, "type": "temporal"},
  "y": {"field": "p", "type": "quantitative"}}},
{"data": {"values": [{"p": 856.3, "t": "856.3"}]}, "mark": {"type": "text", "color": "#1a0000", "align": "center", "baseline": "middle", "dx": 24, "font": "Liberation Sans", "fontSize": 12.6},
 "encoding": {
  "x": {"datum": {"year": 2046, "month": 11, "date": 12, "utc": true}, "type": "temporal"},
  "y": {"field": "p", "type": "quantitative"}, "text": {"field": "t"}}}
]
}
